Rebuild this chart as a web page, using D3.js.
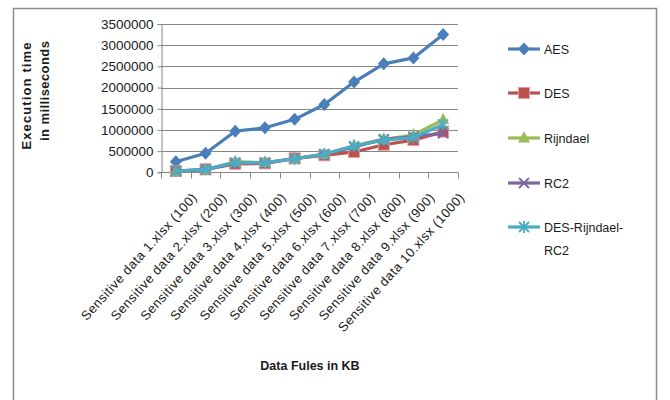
<!DOCTYPE html>
<html>
<head>
<meta charset="utf-8">
<script src="https://cdn.jsdelivr.net/npm/d3@7"></script>
<style>
  html, body { margin: 0; padding: 0; background: #fff; }
  svg { display: block; }
  text { font-family: "Liberation Sans", Arial, sans-serif; fill: #1a1a1a; }
</style>
</head>
<body>
<svg id="chart" width="670" height="400"></svg>
<script>
// Files encrypted (size in KB in brackets)
const categories = [
  "Sensitive data 1.xlsx (100)",
  "Sensitive data 2.xlsx (200)",
  "Sensitive data 3.xlsx (300)",
  "Sensitive data 4.xlsx (400)",
  "Sensitive data 5.xlsx (500)",
  "Sensitive data 6.xlsx (600)",
  "Sensitive data 7.xlsx (700)",
  "Sensitive data 8.xlsx (800)",
  "Sensitive data 9.xlsx (900)",
  "Sensitive data 10.xlsx (1000)"
];

// Execution time per algorithm
const aes         = [250000, 450000, 970000, 1050000, 1250000, 1600000, 2130000, 2560000, 2700000, 3250000];
const des         = [30000, 70000, 200000, 210000, 330000, 400000, 480000, 650000, 760000, 960000];
const rijndael    = [20000, 60000, 250000, 230000, 320000, 420000, 630000, 780000, 880000, 1240000];
const rc2         = [20000, 60000, 220000, 220000, 320000, 430000, 600000, 780000, 840000, 920000];
const desRijRc2   = [30000, 70000, 230000, 230000, 320000, 430000, 620000, 760000, 820000, 1130000];

const yTicks = [0, 500000, 1000000, 1500000, 2000000, 2500000, 3000000, 3500000];

const seriesNames = ["AES", "DES", "Rijndael", "RC2", "DES-Rijndael-RC2"];
const seriesValues = [aes, des, rijndael, rc2, desRijRc2];
const seriesColors = ["#4a7ebb", "#c0504d", "#9bbb59", "#8064a2", "#4bacc6"];
const seriesMarkers = ["diamond", "square", "triangle", "cross", "asterisk"];

const svg = d3.select("#chart");

// outer chart frame
svg.append("rect")
  .attr("x", 13.5).attr("y", 8.5)
  .attr("width", 643).attr("height", 420)
  .attr("fill", "#fff")
  .attr("stroke", "#8a8a8a")
  .attr("stroke-width", 1.5);

const plot = { left: 161, right: 458, top: 24, bottom: 172.3 };

const x = d3.scaleBand().domain(categories).range([plot.left, plot.right]);
const y = d3.scaleLinear().domain([0, 3500000]).range([plot.bottom, plot.top]);

// horizontal gridlines
svg.append("g")
  .selectAll("line")
  .data(yTicks)
  .join("line")
  .attr("x1", plot.left).attr("x2", plot.right)
  .attr("y1", d => Math.round(y(d)) + 0.5).attr("y2", d => Math.round(y(d)) + 0.5)
  .attr("stroke", "#868686").attr("stroke-width", 1);

// y axis
const yAxis = svg.append("g")
  .attr("transform", `translate(${plot.left + 0.5},0)`)
  .call(d3.axisLeft(y).tickValues(yTicks).tickFormat(d3.format("d")).tickSize(4).tickPadding(4));
yAxis.select(".domain").attr("stroke", "#868686");
yAxis.selectAll(".tick line").attr("stroke", "#868686");
yAxis.selectAll(".tick text")
  .style("font-family", "'Liberation Sans', Arial, sans-serif")
  .style("font-size", "13.5px")
  .attr("fill", "#1a1a1a");

// x axis with ticks at category boundaries
const xAxisG = svg.append("g")
  .attr("transform", `translate(0,${Math.round(plot.bottom) + 0.5})`);
xAxisG.append("line")
  .attr("x1", plot.left).attr("x2", plot.right)
  .attr("stroke", "#868686");
const bounds = categories.map(c => x(c)).concat([x(categories[categories.length - 1]) + x.bandwidth()]);
xAxisG.selectAll("line.tk")
  .data(bounds)
  .join("line")
  .attr("class", "tk")
  .attr("x1", d => Math.round(d) + 0.5).attr("x2", d => Math.round(d) + 0.5)
  .attr("y1", 0).attr("y2", 6)
  .attr("stroke", "#868686");

// slanted category labels
svg.append("g")
  .selectAll("text")
  .data(categories)
  .join("text")
  .attr("transform", d => `translate(${x(d) + x.bandwidth() / 2 + 22},198) rotate(-48)`)
  .attr("text-anchor", "end")
  .style("font-size", "13px")
  .style("letter-spacing", "0.5px")
  .text(d => d);

// axis titles
const yTitle = svg.append("g").attr("transform", "translate(0,0)");
yTitle.append("text")
  .attr("transform", "translate(31,96) rotate(-90)")
  .attr("text-anchor", "middle")
  .attr("textLength", 107)
  .attr("lengthAdjust", "spacing")
  .style("font-size", "13px")
  .style("font-weight", "bold")
  .text("Execution time");
yTitle.append("text")
  .attr("transform", "translate(49,91) rotate(-90)")
  .attr("text-anchor", "middle")
  .attr("textLength", 100)
  .attr("lengthAdjust", "spacing")
  .style("font-size", "13px")
  .style("font-weight", "bold")
  .text("in milliseconds");

svg.append("text")
  .attr("x", 310).attr("y", 370)
  .attr("text-anchor", "middle")
  .style("font-size", "12.5px")
  .style("font-weight", "bold")
  .text("Data Fules in KB");

// marker shapes
function drawMarker(g, type, color, cx, cy) {
  if (type === "diamond") {
    g.append("path").attr("d", `M${cx},${cy - 6.5}L${cx + 6},${cy}L${cx},${cy + 6.5}L${cx - 6},${cy}Z`).attr("fill", color);
  } else if (type === "square") {
    g.append("rect").attr("x", cx - 5.5).attr("y", cy - 5.5).attr("width", 11).attr("height", 11)
      .attr("fill", color).attr("stroke", "#e0a09e").attr("stroke-width", 1);
  } else if (type === "triangle") {
    g.append("path").attr("d", `M${cx},${cy - 7}L${cx + 6},${cy + 4.5}L${cx - 6},${cy + 4.5}Z`).attr("fill", color);
  } else if (type === "cross") {
    g.append("path").attr("d", `M${cx - 5},${cy - 5}L${cx + 5},${cy + 5}M${cx - 5},${cy + 5}L${cx + 5},${cy - 5}`)
      .attr("stroke", color).attr("stroke-width", 1.8).attr("fill", "none");
  } else if (type === "asterisk") {
    g.append("path").attr("d", `M${cx - 5},${cy - 5}L${cx + 5},${cy + 5}M${cx - 5},${cy + 5}L${cx + 5},${cy - 5}M${cx},${cy - 6}L${cx},${cy + 6}`)
      .attr("stroke", color).attr("stroke-width", 1.8).attr("fill", "none");
  }
}

// series lines and markers
const line = d3.line()
  .x((d, i) => x(categories[i]) + x.bandwidth() / 2)
  .y(d => y(d));

seriesValues.forEach((vals, s) => {
  const g = svg.append("g");
  g.append("path")
    .datum(vals)
    .attr("d", line)
    .attr("fill", "none")
    .attr("stroke", seriesColors[s])
    .attr("stroke-width", 3.2)
    .attr("stroke-linejoin", "round");
  vals.forEach((v, i) => {
    drawMarker(g, seriesMarkers[s], seriesColors[s], x(categories[i]) + x.bandwidth() / 2, y(v));
  });
});

// legend
const legendRows = [49, 93, 138, 183, 227];
seriesNames.forEach((name, s) => {
  const g = svg.append("g");
  const ly = legendRows[s];
  g.append("line")
    .attr("x1", 508).attr("x2", 540).attr("y1", ly).attr("y2", ly)
    .attr("stroke", seriesColors[s]).attr("stroke-width", 3.2);
  drawMarker(g, seriesMarkers[s], seriesColors[s], 524, ly);
  if (name === "DES-Rijndael-RC2") {
    g.append("text").attr("x", 544).attr("y", ly + 4.5).style("font-size", "12.5px").text("DES-Rijndael-");
    g.append("text").attr("x", 544).attr("y", ly + 27.5).style("font-size", "12.5px").text("RC2");
  } else {
    g.append("text").attr("x", 544).attr("y", ly + 4.5).style("font-size", "12.5px").text(name);
  }
});
</script>
</body>
</html>
